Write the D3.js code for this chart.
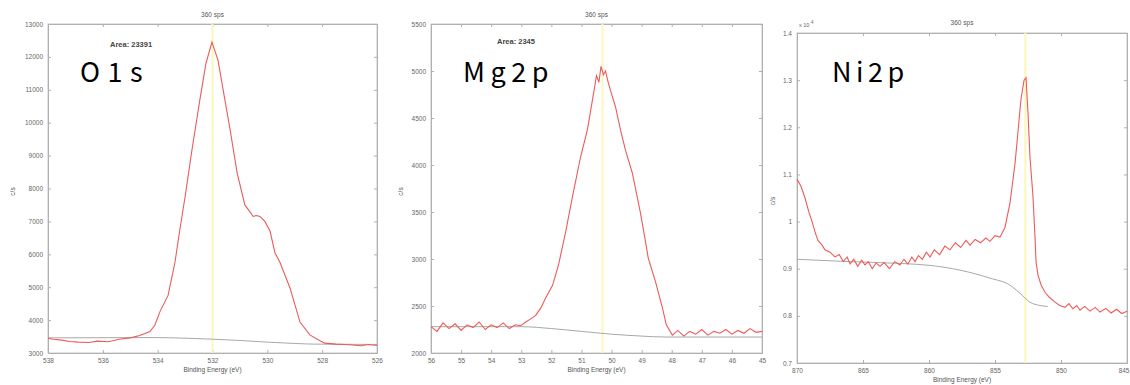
<!DOCTYPE html>
<html><head><meta charset="utf-8">
<script src="https://cdn.jsdelivr.net/npm/d3@7"></script>
<style>
body{margin:0;background:#fff;}
svg{display:block;}
</style></head>
<body>
<svg id="c" width="1130" height="385"></svg>
<script>
// ---------- DATA ----------
const panelNames = ["O1s", "Mg2p", "Ni2p"];
const panelTitles = ["360 sps", "360 sps", "360 sps"];
const areaLabels = ["Area: 23391", "Area: 2345", ""];
const xLabel = "Binding Energy (eV)";
const yLabel = "c/s";

// O1s
const o1sX = [538,537.8,537.5,537.2,536.9,536.5,536.2,535.8,535.4,535.0,534.65,534.28,534.1,533.92,533.62,533.37,533.2,533.0,532.75,532.46,532.24,532.02,531.8,531.55,531.36,531.1,530.82,530.6,530.52,530.4,530.27,530.09,529.9,529.72,529.54,529.17,528.81,528.45,528.1,527.9,527.5,527.0,526.6,526.3,526.0];
const o1sY = [3450,3420,3390,3350,3330,3320,3360,3340,3420,3460,3530,3650,3850,4250,4750,5750,6700,7750,9170,10700,11800,12450,11900,10700,9800,8470,7500,7250,7150,7180,7150,7000,6700,6040,5760,4970,3940,3550,3380,3300,3270,3250,3220,3260,3230];
const o1sBgX = [538,534.2,533,532,531,530,529,528.3,527,526];
const o1sBgY = [3460,3470,3450,3420,3380,3330,3290,3270,3265,3260];
const o1sXTicks = [538,536,534,532,530,528,526];
const o1sYTicks = [3000,4000,5000,6000,7000,8000,9000,10000,11000,12000,13000];
const o1sPeak = 532.0;

// Mg2p
const mgX = [56,55.8,55.6,55.4,55.2,55.0,54.8,54.6,54.4,54.2,54.0,53.8,53.6,53.4,53.2,53.02,52.85,52.7,52.52,52.35,52.19,51.96,51.76,51.53,51.3,51.03,50.8,50.63,50.5,50.42,50.35,50.27,50.2,50.12,50.04,49.87,49.7,49.54,49.31,49.04,48.88,48.78,48.54,48.31,48.18,47.98,47.8,47.6,47.4,47.2,47.0,46.8,46.6,46.4,46.2,46.0,45.8,45.6,45.4,45.2,45.0];
const mgY = [2280,2230,2320,2260,2310,2240,2300,2270,2330,2250,2300,2270,2320,2260,2300,2290,2330,2360,2400,2480,2585,2720,2940,3280,3660,4085,4380,4700,4950,4880,5050,4960,5000,4890,4800,4620,4370,4160,3915,3490,3200,3010,2760,2480,2300,2190,2240,2180,2230,2200,2250,2190,2230,2210,2250,2200,2240,2210,2260,2220,2230];
const mgBgX = [56,53.0,52.0,51.0,50.0,49.0,48.2,45];
const mgBgY = [2280,2280,2260,2230,2200,2180,2170,2170];
const mgXTicks = [56,55,54,53,52,51,50,49,48,47,46,45];
const mgYTicks = [2000,2500,3000,3500,4000,4500,5000,5500];
const mgPeak = 50.3;

// Ni2p (x 10^4)
const niX = [870,869.7,869.39,869.1,868.86,868.6,868.41,868.1,867.88,867.5,867.12,866.8,866.5,866.2,865.98,865.7,865.4,865.1,864.85,864.6,864.3,864.0,863.71,863.4,863.0,862.6,862.2,861.9,861.6,861.3,861.06,860.8,860.5,860.2,859.92,859.6,859.2,858.8,858.41,858.0,857.6,857.2,856.89,856.5,856.1,855.7,855.38,855.0,854.62,854.24,853.86,853.48,853.26,853.03,852.8,852.65,852.5,852.35,852.12,851.97,851.89,851.74,851.5,851.21,850.9,850.45,850.1,849.7,849.4,849.1,848.8,848.56,848.2,847.8,847.4,847.05,846.6,846.2,845.8,845.4,845.0];
const niY = [1.09,1.075,1.05,1.02,1.0,0.975,0.96,0.95,0.94,0.935,0.925,0.93,0.915,0.925,0.91,0.92,0.905,0.918,0.908,0.915,0.9,0.912,0.905,0.913,0.9,0.915,0.908,0.92,0.91,0.925,0.915,0.928,0.92,0.935,0.925,0.94,0.93,0.948,0.94,0.955,0.945,0.96,0.95,0.962,0.955,0.965,0.958,0.97,0.967,0.988,1.04,1.124,1.19,1.26,1.30,1.305,1.23,1.137,1.052,0.967,0.914,0.886,0.865,0.85,0.84,0.829,0.822,0.818,0.826,0.815,0.822,0.812,0.82,0.81,0.818,0.808,0.816,0.806,0.814,0.805,0.81];
const niBgX = [870,866,862,859.92,857.65,855.38,853.86,853.11,852.35,851.6,851.0];
const niBgY = [0.92,0.915,0.911,0.907,0.897,0.88,0.865,0.848,0.829,0.822,0.82];
const niXTicks = [870,865,860,855,850,845];
const niYTicks = [0.7,0.8,0.9,1.0,1.1,1.2,1.3,1.4];
const niPeak = 852.7;

// ---------- DRAW ----------
const svg = d3.select("#c");
const panels = [
  {name:panelNames[0], title:panelTitles[0], area:areaLabels[0], x:o1sX, y:o1sY, bx:o1sBgX, by:o1sBgY, xt:o1sXTicks, yt:o1sYTicks, peak:o1sPeak,
   L:48, R:377, T:24, B:353, xd:[538,526], yd:[3000,13000], fmt:d=>d3.format("d")(d), nameX:80, ls:7.5, areaX:110, areaY:47, yLabX:15, titleY:17},
  {name:panelNames[1], title:panelTitles[1], area:areaLabels[1], x:mgX, y:mgY, bx:mgBgX, by:mgBgY, xt:mgXTicks, yt:mgYTicks, peak:mgPeak,
   L:431, R:762, T:24, B:353, xd:[56,45], yd:[2000,5500], fmt:d=>d3.format("d")(d), nameX:463, ls:5.5, areaX:497, areaY:44, yLabX:403, titleY:17},
  {name:panelNames[2], title:panelTitles[2], area:areaLabels[2], x:niX, y:niY, bx:niBgX, by:niBgY, xt:niXTicks, yt:niYTicks, peak:niPeak,
   L:797, R:1127, T:33, B:363, xd:[870,845], yd:[0.7,1.4], fmt:d=>String(+d.toFixed(1)), nameX:832, ls:4.5, areaX:0, areaY:0, yLabX:775, titleY:25, exp:true}
];

panels.forEach(p => {
  const g = svg.append("g");
  const xs = d3.scaleLinear().domain(p.xd).range([p.L, p.R]);
  const ys = d3.scaleLinear().domain(p.yd).range([p.B, p.T]);

  g.append("rect").attr("x",p.L).attr("y",p.T).attr("width",p.R-p.L).attr("height",p.B-p.T)
    .attr("fill","none").attr("stroke","#c8c8c8").attr("stroke-width",1);

  const xa = d3.axisBottom(xs).tickValues(p.xt).tickSize(-3).tickPadding(5).tickFormat(d=>d3.format("d")(d));
  const ya = d3.axisLeft(ys).tickValues(p.yt).tickSize(-3).tickPadding(5).tickFormat(p.fmt);
  const gx = g.append("g").attr("transform",`translate(0,${p.B})`).call(xa);
  const gy = g.append("g").attr("transform",`translate(${p.L},0)`).call(ya);
  const gxt = g.append("g").attr("transform",`translate(0,${p.T})`).call(d3.axisTop(xs).tickValues(p.xt).tickSize(-3).tickFormat(""));
  const gyr = g.append("g").attr("transform",`translate(${p.R},0)`).call(d3.axisRight(ys).tickValues(p.yt).tickSize(-3).tickFormat(""));
  [gx,gy,gxt,gyr].forEach(a=>{
    a.select(".domain").attr("stroke","#b0b0b0");
    a.selectAll(".tick line").attr("stroke","#b0b0b0");
    a.selectAll("text").attr("fill","#666").attr("font-size",6.5).attr("font-family","Liberation Sans, Arial, sans-serif");
  });
  // keep last x tick label inside the window
  const xtxt = gx.selectAll(".tick text");
  const n = xtxt.size();
  xtxt.filter((d,i)=>i===n-1 && p.R > 1120).attr("text-anchor","end").attr("dx","2");

  g.append("line").attr("x1",xs(p.peak)).attr("x2",xs(p.peak)).attr("y1",p.T).attr("y2",p.B)
    .attr("stroke","#fbf7b8").attr("stroke-width",2);

  const bg = p.bx.map((v,i)=>[v,p.by[i]]);
  g.append("path").datum(bg).attr("fill","none").attr("stroke","#a8a8a8").attr("stroke-width",1)
    .attr("d", d3.line().x(d=>xs(d[0])).y(d=>ys(d[1])).curve(d3.curveMonotoneX));

  const sp = p.x.map((v,i)=>[v,p.y[i]]);
  g.append("path").datum(sp).attr("fill","none").attr("stroke","#ee5a5a").attr("stroke-width",1.1)
    .attr("d", d3.line().x(d=>xs(d[0])).y(d=>ys(d[1])));

  const ff = "Liberation Sans, Arial, sans-serif";
  g.append("text").attr("x",(p.L+p.R)/2).attr("y",p.titleY).attr("text-anchor","middle")
    .attr("font-size",6.5).attr("fill","#555").attr("font-family",ff).text(p.title);
  g.append("text").attr("x",(p.L+p.R)/2).attr("y",p.B+19).attr("text-anchor","middle")
    .attr("font-size",6.5).attr("fill","#555").attr("font-family",ff).text(xLabel);
  g.append("text").attr("transform",`translate(${p.yLabX},${(p.T+p.B)/2 + 3}) rotate(-90)`).attr("text-anchor","middle")
    .attr("font-size",6.5).attr("fill","#555").attr("font-family",ff).text(yLabel);
  if (p.exp) {
    g.append("text").attr("x",p.L+2).attr("y",p.T-6).attr("font-size",5.5).attr("fill","#666").attr("font-family",ff).text("x 10");
    g.append("text").attr("x",p.L+14).attr("y",p.T-9).attr("font-size",4.5).attr("fill","#666").attr("font-family",ff).text("4");
  }
  if (p.area) {
    g.append("text").attr("x",p.areaX).attr("y",p.areaY).attr("font-size",7.5).attr("font-weight","bold").attr("fill","#444")
      .attr("font-family",ff).text(p.area);
  }
  g.append("text").attr("x",p.nameX).attr("y",82).attr("font-size",27).attr("letter-spacing",p.ls).attr("fill","#000")
    .attr("font-family","'Noto Sans CJK JP', 'Noto Sans', sans-serif").text(p.name);
});
</script>
</body></html>
